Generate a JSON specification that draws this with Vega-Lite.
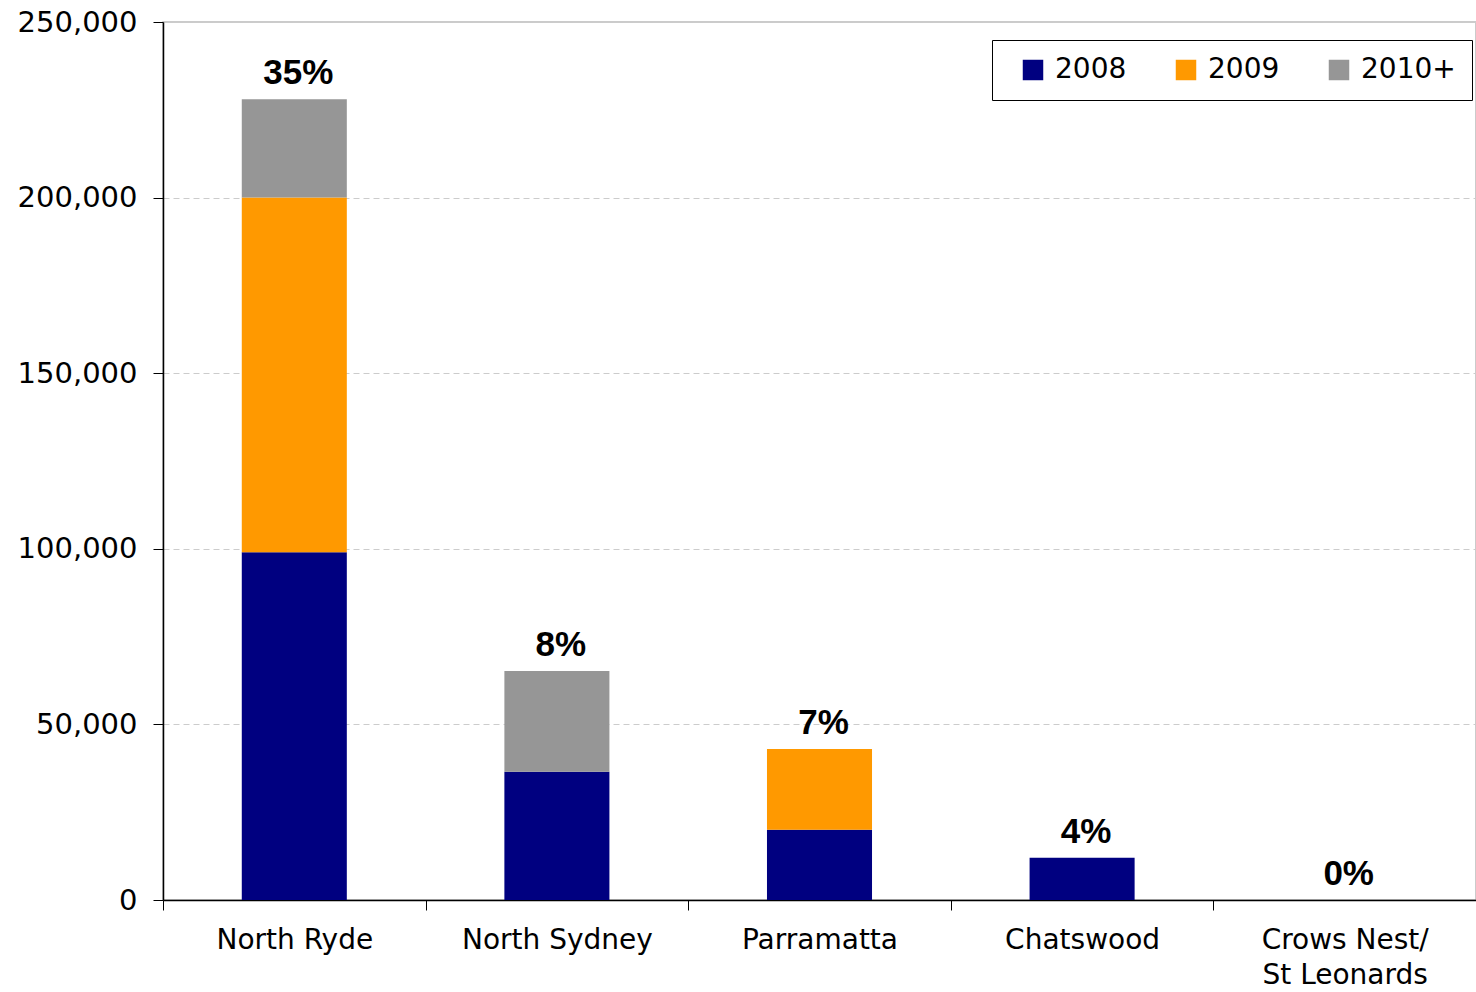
{
  "$schema": "https://vega.github.io/schema/vega-lite/v6.json",
  "width": 1313,
  "height": 878,
  "autosize": {"type": "none"},
  "padding": {"left": 163, "top": 22, "right": 0, "bottom": 92},
  "background": "white",
  "config": {
    "font": "DejaVu Sans",
    "view": {"stroke": "#bbbbbb", "strokeWidth": 1.5}
  },
  "datasets": {
    "bars": [
      {"district": "North Ryde", "year": "2008", "value": 99000},
      {"district": "North Ryde", "year": "2009", "value": 101000},
      {"district": "North Ryde", "year": "2010+", "value": 28000},
      {"district": "North Sydney", "year": "2008", "value": 36500},
      {"district": "North Sydney", "year": "2009", "value": 0},
      {"district": "North Sydney", "year": "2010+", "value": 28700},
      {"district": "Parramatta", "year": "2008", "value": 20000},
      {"district": "Parramatta", "year": "2009", "value": 23000},
      {"district": "Parramatta", "year": "2010+", "value": 0},
      {"district": "Chatswood", "year": "2008", "value": 12000},
      {"district": "Chatswood", "year": "2009", "value": 0},
      {"district": "Chatswood", "year": "2010+", "value": 0},
      {"district": "Crows Nest/ St Leonards", "year": "2008", "value": 0},
      {"district": "Crows Nest/ St Leonards", "year": "2009", "value": 0},
      {"district": "Crows Nest/ St Leonards", "year": "2010+", "value": 0}
    ],
    "totals": [
      {"district": "North Ryde", "total": 228000, "label": "35%"},
      {"district": "North Sydney", "total": 65200, "label": "8%"},
      {"district": "Parramatta", "total": 43000, "label": "7%"},
      {"district": "Chatswood", "total": 12000, "label": "4%"},
      {"district": "Crows Nest/ St Leonards", "total": 0, "label": "0%"}
    ]
  },
  "encoding": {
    "x": {
      "field": "district",
      "type": "nominal",
      "sort": ["North Ryde", "North Sydney", "Parramatta", "Chatswood", "Crows Nest/ St Leonards"],
      "scale": {"paddingInner": 0, "paddingOuter": 0},
      "axis": {
        "title": null,
        "labelAngle": 0,
        "labelFontSize": 28,
        "labelColor": "black",
        "labelPadding": 16,
        "labelLimit": 400,
        "tickBand": "extent",
        "tickSize": 10,
        "tickColor": "black",
        "domainColor": "black",
        "domainWidth": 1.5,
        "labelExpr": "datum.value == 'Crows Nest/ St Leonards' ? ['Crows Nest/', 'St Leonards'] : datum.value",
        "labelLineHeight": 35
      }
    }
  },
  "layer": [
    {
      "data": {"name": "bars"},
      "mark": {"type": "bar", "width": {"band": 0.4}},
      "encoding": {
        "y": {
          "field": "value",
          "type": "quantitative",
          "stack": "zero",
          "scale": {"domain": [0, 250000], "nice": false},
          "axis": {
            "title": null,
            "values": [0, 50000, 100000, 150000, 200000, 250000],
            "format": ",d",
            "labelFontSize": 29,
            "labelColor": "black",
            "labelPadding": 16,
            "tickSize": 10,
            "tickColor": "black",
            "domainColor": "black",
            "domainWidth": 1.5,
            "grid": true,
            "gridColor": "#cccccc",
            "gridDash": [6, 4],
            "gridWidth": 1
          }
        },
        "color": {
          "field": "year",
          "type": "nominal",
          "scale": {"domain": ["2008", "2009", "2010+"], "range": ["#000080", "#FF9900", "#969696"]},
          "legend": {
            "title": null,
            "orient": "none",
            "legendX": 829,
            "legendY": 18,
            "direction": "horizontal",
            "symbolType": "square",
            "symbolSize": 420,
            "symbolStrokeWidth": 0,
            "symbolOffset": 11,
            "labelFontSize": 28,
            "labelColor": "black",
            "labelOffset": 8,
            "columnPadding": 34,
            "padding": 16,
            "strokeColor": "black",
            "fillColor": "white",
            "cornerRadius": 0
          }
        },
        "order": {"field": "year", "type": "nominal", "sort": "ascending"}
      }
    },
    {
      "data": {"name": "totals"},
      "mark": {"type": "text", "baseline": "alphabetic", "dy": -15, "dx": 4, "font": "Liberation Sans", "fontSize": 35, "fontWeight": "bold", "color": "black"},
      "encoding": {
        "y": {"field": "total", "type": "quantitative"},
        "text": {"field": "label"}
      }
    }
  ]
}
